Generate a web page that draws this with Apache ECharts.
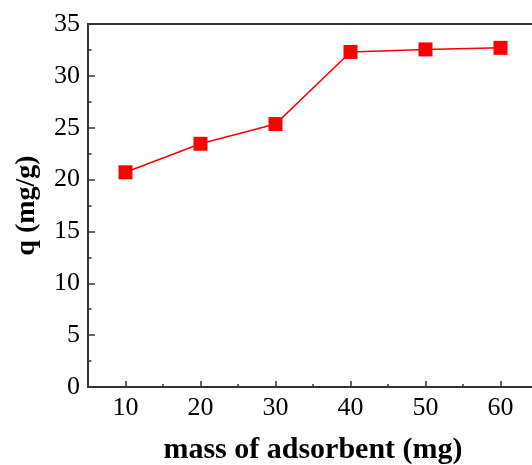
<!DOCTYPE html>
<html>
<head>
<meta charset="utf-8">
<script src="https://cdn.jsdelivr.net/npm/echarts@6/dist/echarts.min.js"></script>
<style>
  html, body { margin: 0; padding: 0; background: #fff; }
  #chart { width: 532px; height: 465px; }
</style>
</head>
<body>
<div id="chart"></div>
<script>
// 吸附剂质量 (mg) 与吸附量 q (mg/g)
const mass = [10, 20, 30, 40, 50, 60];
const q = [20.7, 23.45, 25.35, 32.3, 32.55, 32.7];
const xLabels = [10, 20, 30, 40, 50, 60];

const font = 'Liberation Serif, Times New Roman, serif';
const chart = echarts.init(document.getElementById('chart'));

chart.setOption({
  backgroundColor: '#fff',
  animation: false,
  grid: {
    left: 88, top: 24, width: 450, height: 363,
    outerBoundsMode: 'none', containLabel: false,
    show: true, borderColor: '#333', borderWidth: 2, backgroundColor: 'transparent'
  },
  xAxis: [{
    type: 'value', min: 5, max: 65, interval: 5,
    name: 'mass of adsorbent (mg)', nameLocation: 'middle', nameGap: 48,
    nameTextStyle: { fontFamily: font, fontSize: 30, fontWeight: 'bold', color: '#000' },
    axisLine: { show: true, lineStyle: { color: '#333', width: 2 } },
    axisTick: { show: true, inside: true, length: 6, customValues: xLabels, lineStyle: { color: '#333', width: 1.5 } },
    axisLabel: { customValues: xLabels, fontFamily: font, fontSize: 26, color: '#000', margin: 8 },
    splitLine: { show: false }
  }, {
    // 次刻度（每 5 mg）
    type: 'value', min: 5, max: 65, interval: 5, position: 'bottom',
    axisLine: { show: false },
    axisTick: { show: true, inside: true, length: 3, lineStyle: { color: '#333', width: 1.5 } },
    axisLabel: { show: false },
    splitLine: { show: false }
  }],
  yAxis: {
    type: 'value', min: 0, max: 35, interval: 5,
    name: 'q (mg/g)', nameLocation: 'middle', nameGap: 47,
    nameTextStyle: { fontFamily: font, fontSize: 28, fontWeight: 'bold', color: '#000' },
    axisLine: { show: true, lineStyle: { color: '#333', width: 2 } },
    axisTick: { show: true, inside: true, length: 7, lineStyle: { color: '#333', width: 1.5 } },
    minorTick: { show: true, splitNumber: 2, length: 3.5, lineStyle: { color: '#333', width: 1.5 } },
    axisLabel: { fontFamily: font, fontSize: 26, color: '#000', margin: 8 },
    splitLine: { show: false }
  },
  series: [{
    type: 'line',
    data: mass.map((m, i) => [m, q[i]]),
    symbol: 'rect', symbolSize: 14,
    itemStyle: { color: '#ff0000' },
    lineStyle: { color: '#ff0000', width: 1.5 }
  }]
});
</script>
</body>
</html>
